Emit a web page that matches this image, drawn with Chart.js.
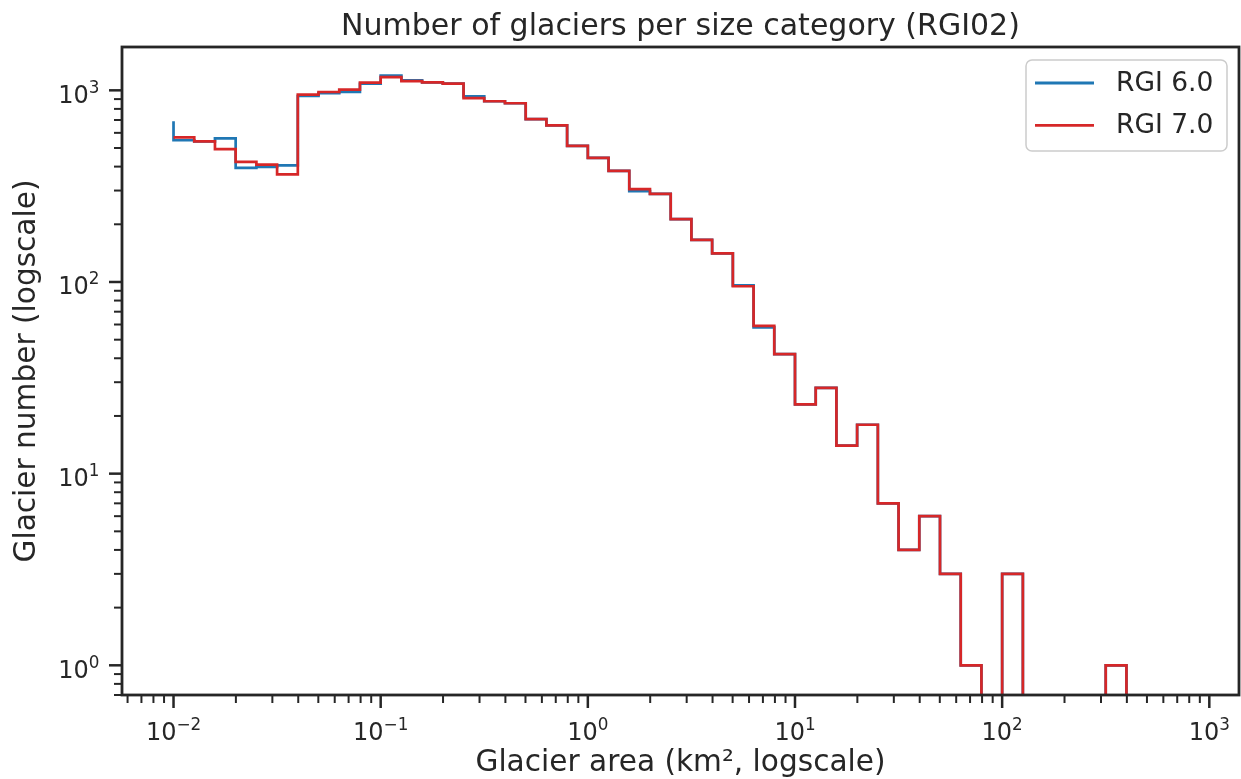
<!DOCTYPE html>
<html>
<head>
<meta charset="UTF-8">
<title>Glaciers per size category</title>
<script src="https://cdn.jsdelivr.net/npm/chart.js@4.4.1/dist/chart.umd.min.js"></script>
<style>
  body { margin: 0; background: #fff; }
</style>
</head>
<body>
<canvas id="chart" width="1241" height="779"></canvas>
<script>
// size categories: bin edges in km2 (10 bins per decade)
const binEdges = [
  0.01, 0.01259, 0.01585, 0.01995, 0.02512, 0.03162, 0.03981, 0.05012, 0.0631, 0.07943,
  0.1, 0.1259, 0.1585, 0.1995, 0.2512, 0.3162, 0.3981, 0.5012, 0.631, 0.7943,
  1, 1.259, 1.585, 1.995, 2.512, 3.162, 3.981, 5.012, 6.31, 7.943,
  10, 12.59, 15.85, 19.95, 25.12, 31.62, 39.81, 50.12, 63.1, 79.43,
  100, 125.9, 158.5, 199.5, 251.2, 316.2, 398.1, 501.2, 631, 794.3,
  1000
];

// glacier counts per bin
const rgi6 = [
  549, 541, 562, 394, 399, 406, 934, 968, 980, 1082,
  1193, 1127, 1100, 1085, 930, 877, 856, 707, 657, 513,
  444, 380, 298, 288, 213, 166, 141, 96, 58, 42,
  23, 28, 14, 18, 7, 4, 6, 3, 1, 0,
  3, 0, 0, 0, 0, 1, 0, 0, 0, 0
];
const rgi6FirstEdgePeak = 690;

const rgi7 = [
  568, 541, 493, 423, 410, 364, 950, 980, 1008, 1097,
  1173, 1118, 1100, 1085, 910, 877, 856, 707, 657, 513,
  444, 380, 305, 288, 213, 166, 141, 95, 59, 42,
  23, 28, 14, 18, 7, 4, 6, 3, 1, 0,
  3, 0, 0, 0, 0, 1, 0, 0, 0, 0
];

const xTicks = [0.01, 0.1, 1, 10, 100, 1000];
const yTicks = [1, 10, 100, 1000];
const xRange = [0.00564, 1391];
const yRange = [0.702, 1683];

const ink = '#262626';
const family = 'DejaVu Sans';
Chart.defaults.font.family = family;

// histogram outline as step points; empty bins drop below the axis (clipped)
function stepPoints(counts, peak) {
  const floor = yRange[0] / 2;
  const pts = [];
  if (peak) pts.push({x: binEdges[0], y: peak});
  counts.forEach((c, i) => pts.push({x: binEdges[i], y: c > 0 ? c : floor}));
  pts.push({x: binEdges[binEdges.length - 1], y: floor});
  return pts;
}

function exponent(v) {
  return String(Math.round(Math.log10(v))).replace('-', '\u2212');
}

// draws "10" with a raised exponent; anchor: 'center' or 'right'
function powText(ctx, v, px, baseline, anchor) {
  const big = '24px "' + family + '"', small = '16.8px "' + family + '"';
  const e = exponent(v);
  ctx.font = big;
  const wb = ctx.measureText('10').width;
  ctx.font = small;
  const ws = ctx.measureText(e).width;
  const x0 = anchor === 'center' ? px - (wb + ws) / 2 : px - wb - ws;
  ctx.font = big;
  ctx.fillText('10', x0, baseline);
  ctx.font = small;
  ctx.fillText(e, x0 + wb, baseline - 9.7);
}

// frame, log ticks, tick labels and legend box, matplotlib-like
const decor = {
  id: 'decor',
  afterDatasetsDraw(chart) {
    const {ctx, chartArea: a, scales: {x, y}} = chart;
    ctx.save();
    ctx.strokeStyle = ink;

    function ticks(scale, draw) {
      const e0 = Math.floor(Math.log10(scale.min));
      const e1 = Math.ceil(Math.log10(scale.max));
      for (let e = e0; e <= e1; e++) {
        for (let m = 1; m <= 9; m++) {
          const v = m * Math.pow(10, e);
          if (v < scale.min || v > scale.max) continue;
          const p = scale.getPixelForValue(v);
          ctx.lineWidth = m === 1 ? 2.5 : 2;
          ctx.beginPath();
          draw(p, m === 1 ? 13 : 8);
          ctx.stroke();
        }
      }
    }
    ticks(x, (p, len) => { ctx.moveTo(p, a.bottom); ctx.lineTo(p, a.bottom + len); });
    ticks(y, (p, len) => { ctx.moveTo(a.left, p); ctx.lineTo(a.left - len, p); });

    ctx.lineWidth = 2.8;
    ctx.strokeRect(a.left, a.top, a.right - a.left, a.bottom - a.top);

    // tick labels
    ctx.fillStyle = ink;
    ctx.textBaseline = 'alphabetic';
    ctx.textAlign = 'left';
    xTicks.forEach(v => powText(ctx, v, x.getPixelForValue(v), a.bottom + 45, 'center'));
    yTicks.forEach(v => powText(ctx, v, a.left - 22.5, y.getPixelForValue(v) + 12.2, 'right'));

    // legend
    const bw = 201, bh = 91;
    const bx = a.right - 12 - bw, by = a.top + 13;
    ctx.beginPath();
    ctx.roundRect(bx, by, bw, bh, 6);
    ctx.fillStyle = 'rgba(255,255,255,0.8)';
    ctx.fill();
    ctx.lineWidth = 1.5;
    ctx.strokeStyle = '#cccccc';
    ctx.stroke();
    ctx.font = '26.5px "' + family + '"';
    ctx.textBaseline = 'middle';
    chart.data.datasets.forEach((ds, i) => {
      const ly = by + 23 + i * 42.3;
      ctx.strokeStyle = ds.borderColor;
      ctx.lineWidth = 2.8;
      ctx.beginPath();
      ctx.moveTo(bx + 9, ly);
      ctx.lineTo(bx + 68, ly);
      ctx.stroke();
      ctx.fillStyle = ink;
      ctx.fillText(ds.label, bx + 90, ly + 1);
    });
    ctx.restore();
  }
};

new Chart(document.getElementById('chart'), {
  type: 'line',
  data: {
    datasets: [
      {
        label: 'RGI 6.0',
        data: stepPoints(rgi6, rgi6FirstEdgePeak),
        borderColor: '#1f77b4',
        order: 1
      },
      {
        label: 'RGI 7.0',
        data: stepPoints(rgi7),
        borderColor: '#d62728',
        order: 0
      }
    ]
  },
  options: {
    responsive: false,
    animation: false,
    layout: {padding: {left: 0, right: 2, top: 0, bottom: 0}},
    elements: {
      line: {borderWidth: 2.7, stepped: 'before', fill: false, tension: 0},
      point: {radius: 0, hoverRadius: 0}
    },
    datasets: {line: {clip: {left: 5, top: 5, right: 5, bottom: 0}}},
    plugins: {
      legend: {display: false},
      tooltip: {enabled: false},
      title: {
        display: true,
        fullSize: false,
        text: 'Number of glaciers per size category (RGI02)',
        color: ink,
        font: {size: 30, weight: 'normal', lineHeight: 1.0},
        padding: {top: 12, bottom: 5}
      }
    },
    scales: {
      x: {
        type: 'logarithmic',
        position: 'bottom',
        min: xRange[0],
        max: xRange[1],
        grid: {display: false, drawTicks: false},
        border: {display: false},
        afterBuildTicks: s => { s.ticks = xTicks.map(v => ({value: v})); },
        afterFit: s => { s.height = 84; },
        ticks: {display: false},
        title: {
          display: true,
          text: 'Glacier area (km\u00B2, logscale)',
          color: ink,
          font: {size: 29.6, lineHeight: 1.2},
          padding: {top: 0, bottom: -2}
        }
      },
      y: {
        type: 'logarithmic',
        position: 'left',
        min: yRange[0],
        max: yRange[1],
        grid: {display: false, drawTicks: false},
        border: {display: false},
        afterBuildTicks: s => { s.ticks = yTicks.map(v => ({value: v})); },
        afterFit: s => { s.width = 122; },
        ticks: {display: false},
        title: {
          display: true,
          text: 'Glacier number (logscale)',
          color: ink,
          font: {size: 29.6, lineHeight: 1.2},
          padding: {top: 9.7, bottom: 0}
        }
      }
    }
  },
  plugins: [decor]
});
</script>
</body>
</html>
